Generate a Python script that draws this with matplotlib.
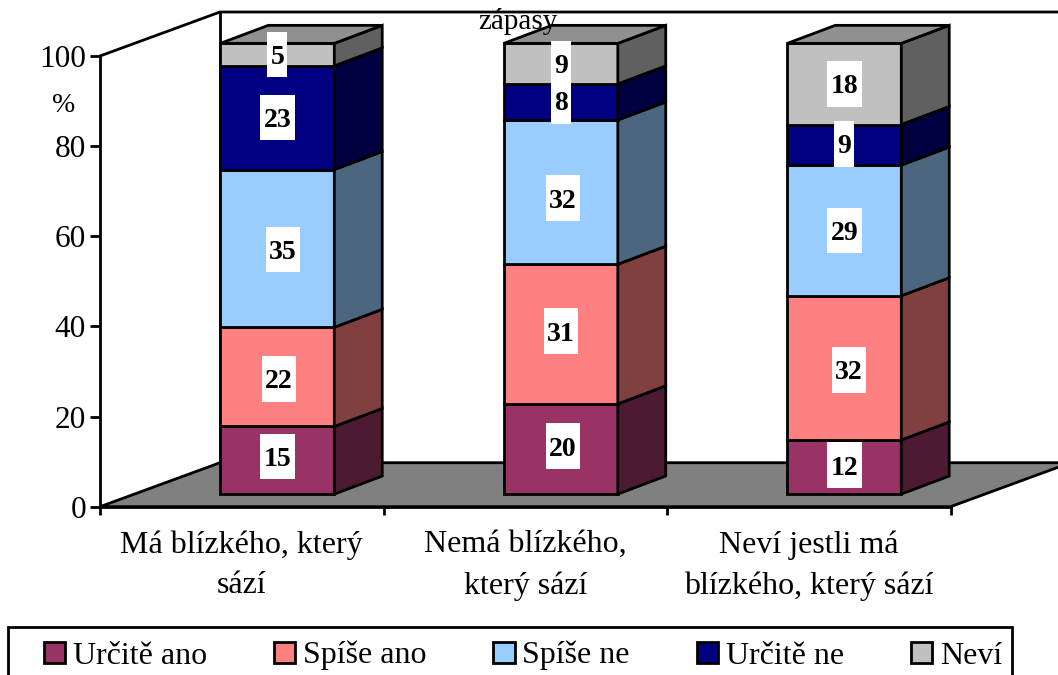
import matplotlib
matplotlib.use('Agg')
import matplotlib.pyplot as plt
from matplotlib.patches import Polygon, Rectangle, Patch

plt.rcParams['font.family'] = ['Liberation Serif', 'DejaVu Serif']

categories = ['Má blízkého, který\nsází', 'Nemá blízkého,\nkterý sází', 'Neví jestli má\nblízkého, který sází']
series_names = ['Určitě ano', 'Spíše ano', 'Spíše ne', 'Určitě ne', 'Neví']
urcite_ano = [15, 20, 12]
spise_ano = [22, 31, 32]
spise_ne = [35, 32, 29]
urcite_ne = [23, 8, 9]
nevi = [5, 9, 18]
y_ticks = [0, 20, 40, 60, 80, 100]

front_colors = ['#993366', '#FF8080', '#99CCFF', '#000080', '#C0C0C0']
side_colors = ['#4D1A33', '#804040', '#4D6680', '#000040', '#606060']
top_color = '#909090'
floor_color = '#808080'

W, H = 1058, 675
LW = 2.0

# pixel size of one x / y unit
px_x = 283.5
px_y = 4.507

# depth of the 3d box and of one bar
DX, DY = 0.4233, 9.76
BDX, BDY = 0.169, 4.0
BAR_LEFT, BAR_W, BAR_BASE = 0.4245, 0.402, 2.8

# small shifts of the labels, in pixels (the original is uneven)
label_nudge_x = [[0, 1.5, 5.5, 0, 0], [2, 0, 2, 0, 0], [0, 4.5, 0, 0, 0]]
label_nudge_y = [[4, -2, -1, 0, 0], [3, 3, -6, 1, 0], [2, -2, 0, 1, 0]]

fig = plt.figure(figsize=(W / 100, H / 100), dpi=100)
ax = fig.add_axes([100 / W, (H - 506.7) / H, 850.5 / W, 450.7 / H])
ax.set_xlim(0, 3)
ax.set_ylim(0, 100)
ax.patch.set_alpha(0)

# floor and walls
ax.add_patch(Polygon([(0, 0), (3, 0), (3 + DX, DY), (DX, DY)], closed=True, facecolor=floor_color,
                     edgecolor='black', linewidth=LW, clip_on=False, zorder=1))
ax.plot([0, DX, 3 + DX], [100, 100 + DY, 100 + DY], color='black', lw=LW, clip_on=False, zorder=1)
ax.plot([DX, DX], [DY, 100 + DY], color='black', lw=LW, clip_on=False, zorder=1)

all_series = [urcite_ano, spise_ano, spise_ne, urcite_ne, nevi]

for i in range(len(categories)):
    x0 = i + BAR_LEFT
    x1 = x0 + BAR_W
    bottom = BAR_BASE
    for s, values in enumerate(all_series):
        v = values[i]
        top = bottom + v
        ax.add_patch(Rectangle((x0, bottom), BAR_W, v, facecolor=front_colors[s], edgecolor='black',
                               linewidth=LW, clip_on=False, zorder=3))
        ax.add_patch(Polygon([(x1, bottom), (x1 + BDX, bottom + BDY), (x1 + BDX, top + BDY), (x1, top)],
                             closed=True, facecolor=side_colors[s], edgecolor='black',
                             linewidth=LW, clip_on=False, zorder=3))
        bottom = top
    ax.add_patch(Polygon([(x0, bottom), (x0 + BDX, bottom + BDY), (x1 + BDX, bottom + BDY), (x1, bottom)],
                         closed=True, facecolor=top_color, edgecolor='black',
                         linewidth=LW, clip_on=False, zorder=3))

    # value labels on white boxes
    bottom = BAR_BASE
    for s, values in enumerate(all_series):
        v = values[i]
        cx = x0 + BAR_W / 2 + label_nudge_x[i][s] / px_x
        cy = bottom + v / 2 + label_nudge_y[i][s] / px_y
        box_w = (20 if v < 10 else 34.5) / px_x
        box_h = 45.5 / px_y
        ax.add_patch(Rectangle((cx - box_w / 2, cy - box_h / 2), box_w, box_h, facecolor='white',
                               edgecolor='none', clip_on=False, zorder=4))
        ax.text(cx, cy, str(v), ha='center', va='center_baseline', fontsize=20, fontweight='bold',
                color='black', zorder=5)
        bottom += v

# axes
for side in ['top', 'right']:
    ax.spines[side].set_visible(False)
for side in ['left', 'bottom']:
    ax.spines[side].set_linewidth(LW)
    ax.spines[side].set_zorder(2)
ax.set_yticks(y_ticks)
ax.tick_params(axis='y', length=7, width=LW, pad=3, labelsize=22.5)
ax.set_xticks([0, 1, 2, 3])
ax.set_xticklabels([])
ax.tick_params(axis='x', which='major', length=6, width=LW)
ax.set_xticks([0.5, 1.5, 2.5], minor=True)
ax.set_xticklabels(categories, minor=True, fontsize=23, linespacing=1.53)
ax.tick_params(axis='x', which='minor', length=0, pad=17)

fig.text(64 / W, 1 - 106 / H, '%', fontsize=20, ha='center', va='center')
fig.text(518 / W, 1 - 29 / H, 'zápasy', fontsize=21, ha='center', va='baseline', zorder=10)

# legend: frame runs past the bottom of the picture, so it is drawn on its own
fig.add_artist(Rectangle((8 / W, -20 / H), 1004 / W, (H - 627 + 20) / H, transform=fig.transFigure,
                         facecolor='white', edgecolor='black', linewidth=LW, zorder=1))
handles = [Patch(facecolor=c, edgecolor='black', linewidth=LW) for c in front_colors]
leg = fig.legend(handles, series_names, loc='upper left', bbox_to_anchor=(43.5 / W, 1 - 641 / H),
                 bbox_transform=fig.transFigure, ncol=5, frameon=False, borderaxespad=0, fontsize=23,
                 handlelength=0.66, handleheight=0.66, handletextpad=0.25, columnspacing=2.1, borderpad=0)
leg.set_zorder(2)

fig.savefig('out.png', dpi=100)
